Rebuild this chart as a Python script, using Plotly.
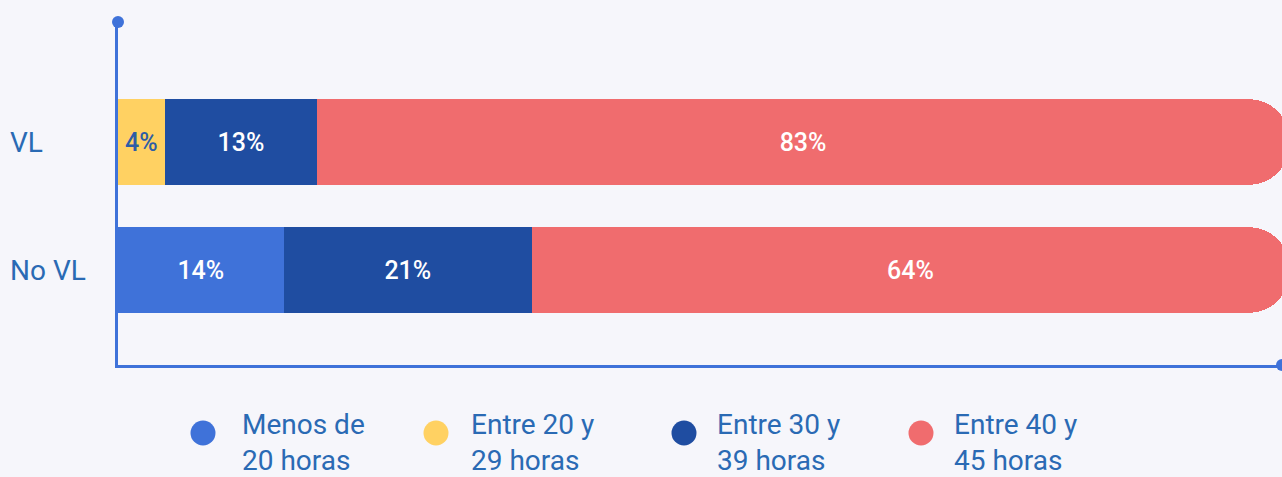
import plotly.graph_objects as go

categories = ["No VL", "VL"]
series_names = ["Menos de<br>20 horas", "Entre 20 y<br>29 horas", "Entre 30 y<br>39 horas", "Entre 40 y<br>45 horas"]
menos_20 = [14, 0]
entre_20_29 = [0, 4]
entre_30_39 = [21, 13]
entre_40_45 = [64, 83]

colors = ["#3f72d9", "#ffd162", "#1f4da1", "#f06c6e"]
label_colors = ["#ffffff", "#2d5da6", "#ffffff", "#ffffff"]
text_blue = "#2a6ab4"
font_family = "Roboto, Inter, sans-serif"
bg = "#f6f6fb"

series_values = [menos_20, entre_20_29, entre_30_39, entre_40_45]

fig = go.Figure()
for name, vals, col, lcol in zip(series_names, series_values, colors, label_colors):
    fig.add_trace(go.Bar(
        y=categories, x=vals, orientation="h", name=name,
        marker=dict(color=col, line=dict(width=0)),
        text=[f"{v}%" if v > 0 else "" for v in vals],
        textposition="inside", insidetextanchor="middle",
        constraintext="none",
        textfont=dict(family=font_family, size=25, color=lcol, weight=500),
        width=0.67, showlegend=False, hoverinfo="skip",
    ))

# y-axis category labels (left aligned)
annotations = []
for c in categories:
    annotations.append(dict(
        text=c, xref="paper", yref="y", x=-0.0945, y=c, xanchor="left",
        yanchor="middle", showarrow=False,
        font=dict(family=font_family, size=28, color=text_blue),
    ))

# manual legend
leg_dot_x = [203, 436, 684, 921]
leg_text_x = [240, 469, 715, 952]
plot_left, plot_w, plot_top, plot_h = 118, 1164, 22, 343
shapes = []
for name, col, dx, tx in zip(series_names, colors, leg_dot_x, leg_text_x):
    shapes.append(dict(
        type="circle", xref="paper", yref="paper", xsizemode="pixel", ysizemode="pixel",
        xanchor=(dx - plot_left) / plot_w, yanchor=-(433 - plot_top - plot_h) / plot_h,
        x0=-12.5, x1=12.5, y0=-12.5, y1=12.5, fillcolor=col, line=dict(width=0),
    ))
    annotations.append(dict(
        text=name, xref="paper", yref="paper", x=(tx - plot_left) / plot_w,
        y=-(443 - plot_top - plot_h) / plot_h, xanchor="left", yanchor="middle",
        align="left", showarrow=False,
        font=dict(family=font_family, size=28, color=text_blue),
    ))

# axis end dots
shapes.append(dict(type="circle", xref="paper", yref="paper", xsizemode="pixel", ysizemode="pixel",
                   xanchor=0, yanchor=1, x0=-6, x1=6, y0=-6, y1=6,
                   fillcolor="#3f72d9", line=dict(width=0)))
shapes.append(dict(type="circle", xref="paper", yref="paper", xsizemode="pixel", ysizemode="pixel",
                   xanchor=1, yanchor=0, x0=-6, x1=6, y0=-6, y1=6,
                   fillcolor="#3f72d9", line=dict(width=0)))

fig.update_layout(
    width=1282, height=477,
    margin=dict(l=118, r=0, t=22, b=112),
    barmode="stack", barnorm="percent", barcornerradius=40,
    paper_bgcolor=bg, plot_bgcolor=bg,
    xaxis=dict(range=[0, 99.4], showgrid=False, zeroline=False, showticklabels=False,
               showline=True, linecolor="#3f72d9", linewidth=3, ticks=""),
    yaxis=dict(type="category", categoryarray=categories, categoryorder="array",
               range=[-0.742, 1.9375], showgrid=False, zeroline=False, showticklabels=False,
               showline=True, linecolor="#3f72d9", linewidth=3, ticks=""),
    annotations=annotations, shapes=shapes,
    uniformtext=dict(mode="show", minsize=25),
)

fig.write_html(
    "out.html",
    config={"displayModeBar": False},
    post_script="document.body.style.margin='0';document.body.style.background='%s';" % bg,
)
